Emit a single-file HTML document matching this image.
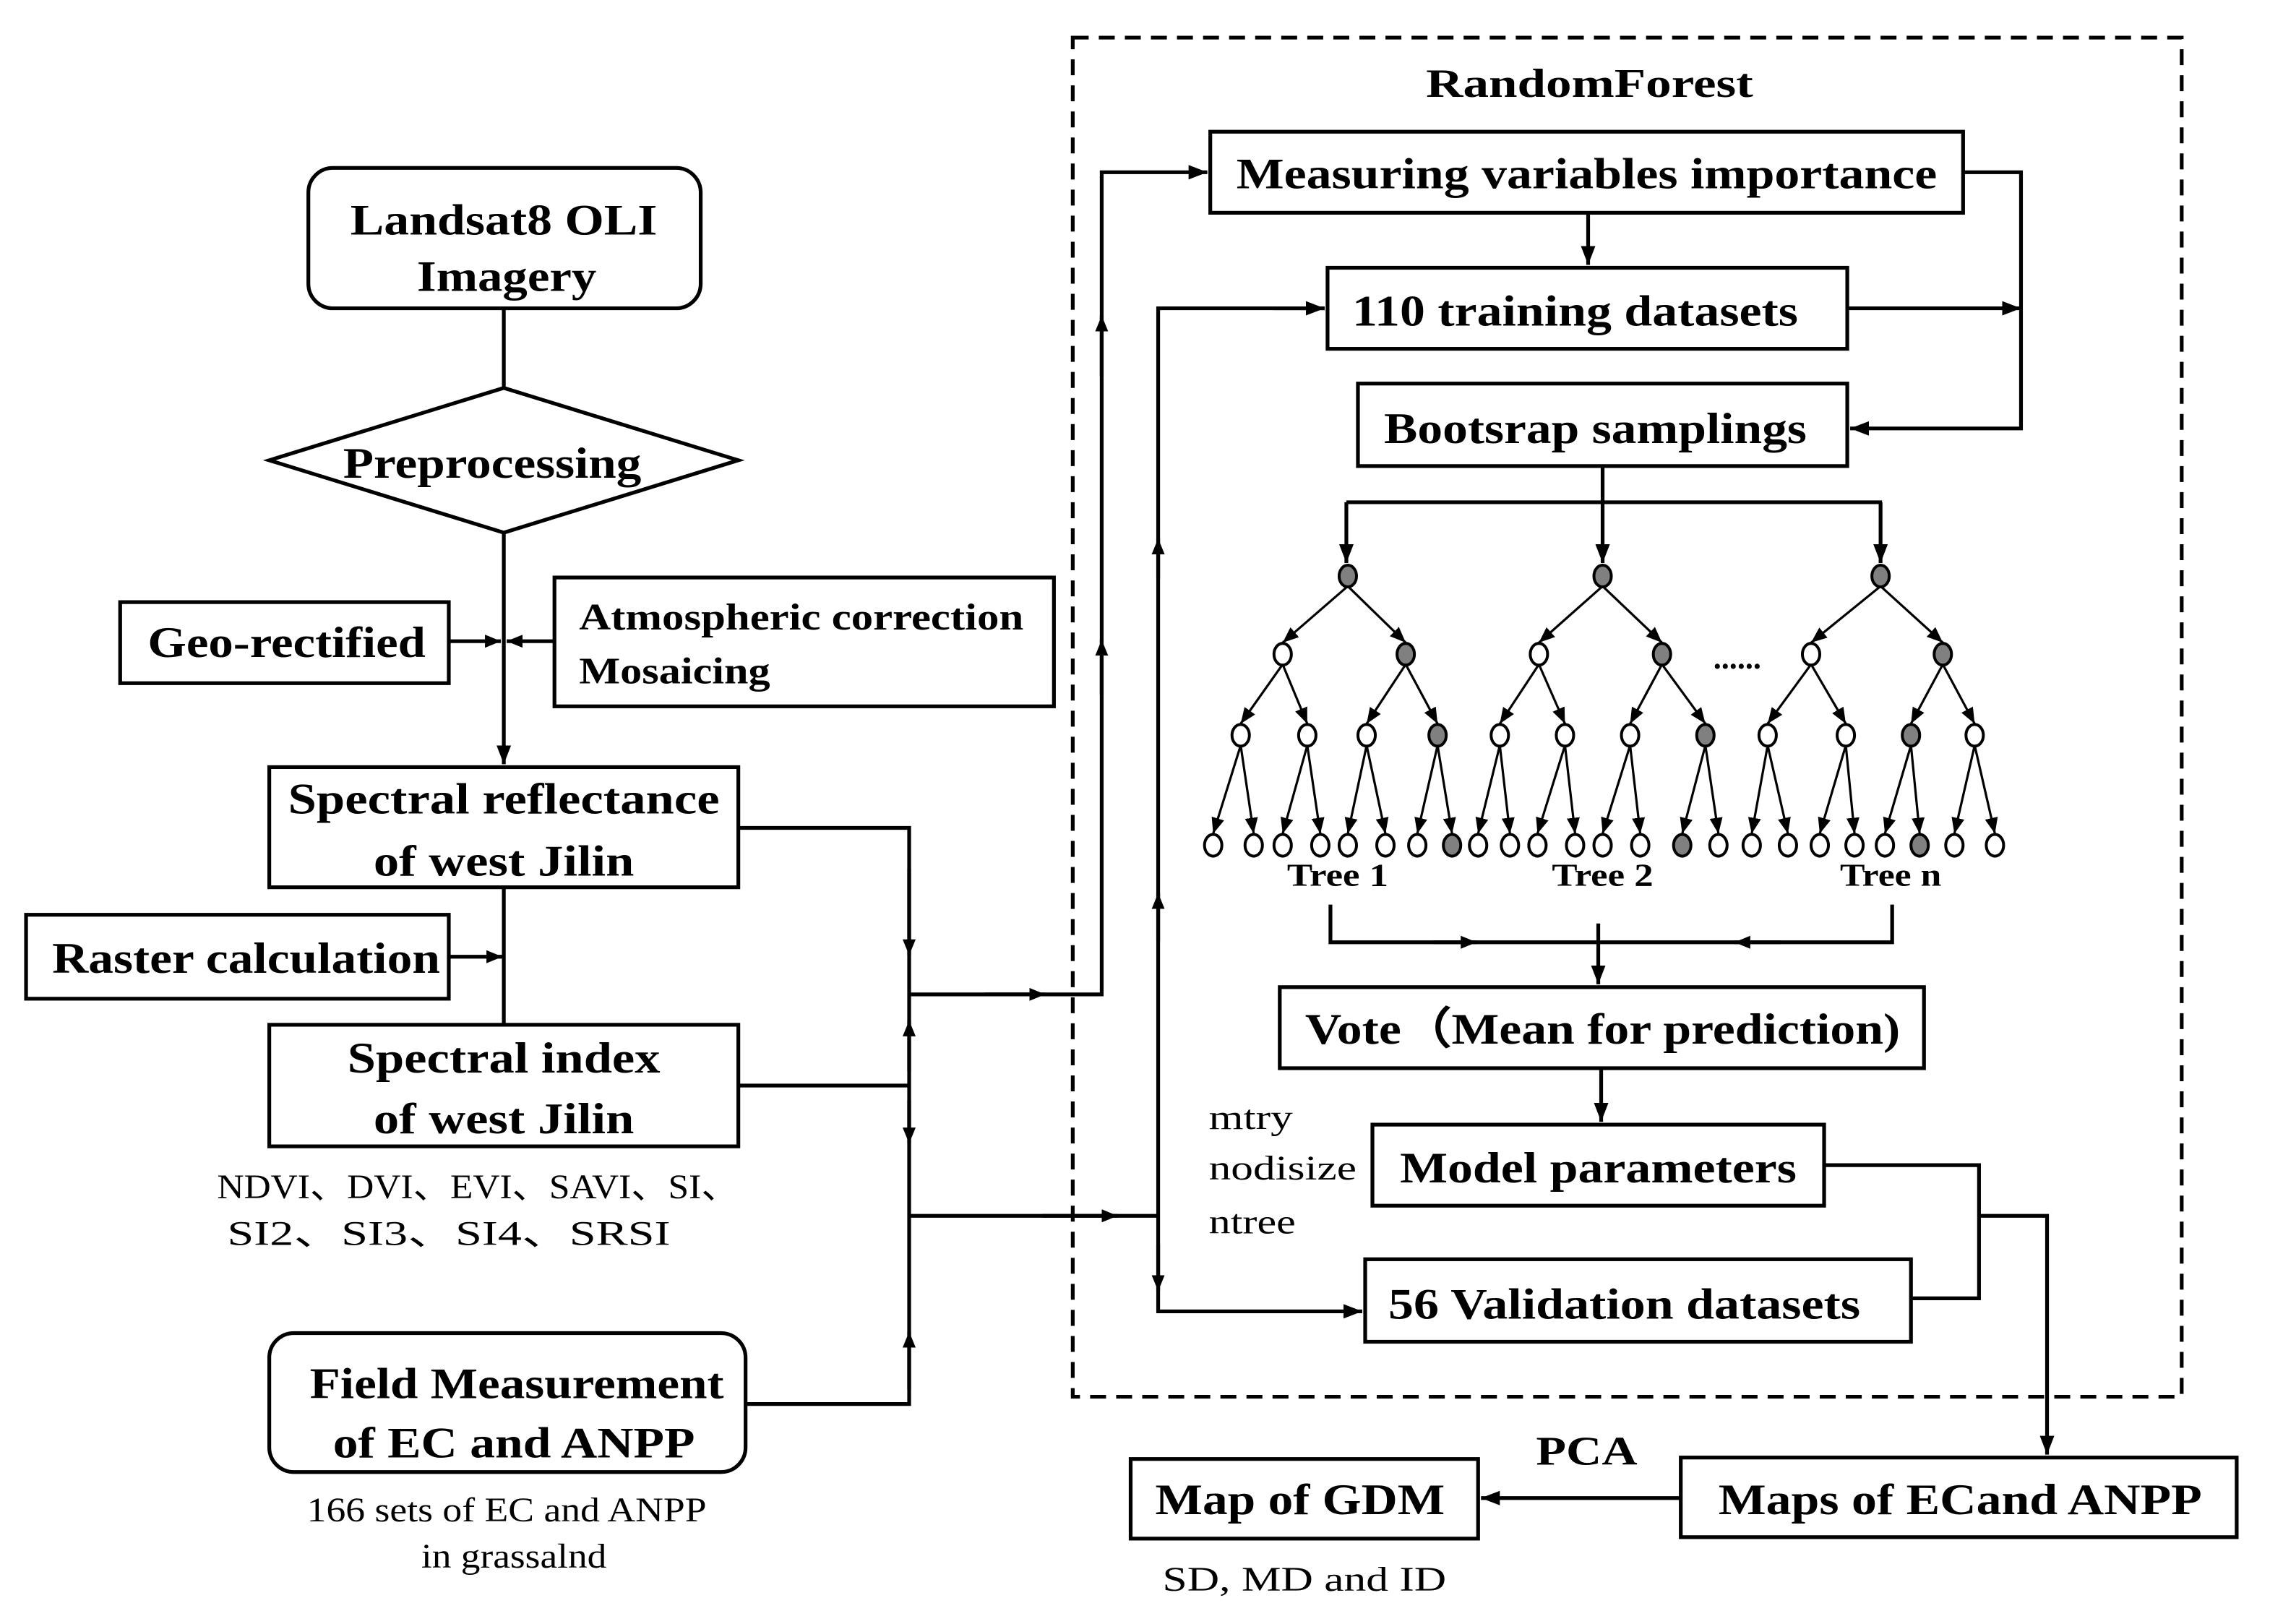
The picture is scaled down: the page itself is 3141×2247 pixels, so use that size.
<!DOCTYPE html>
<html><head><meta charset="utf-8"><style>
html,body{margin:0;padding:0;background:#fff}
svg{display:block}
text{font-family:"Liberation Serif",serif;fill:#000}
.b{font-weight:bold}
</style></head><body>
<svg id="s" xmlns="http://www.w3.org/2000/svg" width="3141" height="2247" viewBox="0 0 1568 1122" preserveAspectRatio="none">
<defs>
<marker id="a" markerUnits="userSpaceOnUse" markerWidth="14" markerHeight="12" refX="13" refY="5" orient="auto"><path d="M0,0 L13,5 L0,10 z" fill="#000"/></marker>
<marker id="t" markerUnits="userSpaceOnUse" markerWidth="12" markerHeight="10" refX="11" refY="4.5" orient="auto"><path d="M0,0 L11,4.5 L0,9 z" fill="#000"/></marker>
</defs>
<g fill="none" stroke="#000" stroke-width="2.6">
<!-- dashed box -->
<rect x="741" y="26" width="766" height="939" stroke-dasharray="11,7"/>
<!-- left column -->
<rect x="213" y="116" width="271" height="97" rx="17"/>
<line x1="348" y1="213" x2="348" y2="268"/>
<polygon points="186,318 348,268 510,318 348,368"/>
<line x1="348" y1="368" x2="348" y2="528" marker-end="url(#a)"/>
<rect x="83" y="416" width="227" height="56"/>
<rect x="383" y="399" width="345" height="89"/>
<line x1="310" y1="443" x2="346" y2="443" marker-end="url(#t)"/>
<line x1="383" y1="443" x2="350" y2="443" marker-end="url(#t)"/>
<rect x="186" y="530" width="324" height="83"/>
<line x1="348" y1="613" x2="348" y2="708"/>
<rect x="18" y="632" width="292" height="58"/>
<line x1="310" y1="661" x2="347" y2="661" marker-end="url(#t)"/>
<rect x="186" y="708" width="324" height="84"/>
<rect x="186" y="921" width="329" height="96" rx="17"/>
<!-- connectors -->
<polyline points="510,572 628,572 628,970 515,970"/>
<line x1="510" y1="750" x2="628" y2="750"/>
<line x1="628" y1="600" x2="628" y2="660" marker-end="url(#t)"/>
<line x1="628" y1="740" x2="628" y2="705" marker-end="url(#t)"/>
<line x1="628" y1="760" x2="628" y2="790" marker-end="url(#t)"/>
<line x1="628" y1="960" x2="628" y2="920" marker-end="url(#t)"/>
<polyline points="628,687 761,687 761,119 834,119" marker-end="url(#a)"/>
<line x1="680" y1="687" x2="722" y2="687" marker-end="url(#t)"/>
<line x1="761" y1="260" x2="761" y2="218" marker-end="url(#t)"/>
<line x1="761" y1="480" x2="761" y2="442" marker-end="url(#t)"/>
<line x1="628" y1="840" x2="800" y2="840"/>
<line x1="720" y1="840" x2="772" y2="840" marker-end="url(#t)"/>
<polyline points="915,213 800,213 800,906 941,906" marker-end="url(#a)"/>
<line x1="800" y1="240" x2="800" y2="214" stroke-width="0"/>
<line x1="880" y1="213" x2="915" y2="213" marker-end="url(#a)"/>
<line x1="800" y1="400" x2="800" y2="372" marker-end="url(#t)"/>
<line x1="800" y1="650" x2="800" y2="617" marker-end="url(#t)"/>
<line x1="800" y1="860" x2="800" y2="892" marker-end="url(#t)"/>
<!-- RF boxes -->
<rect x="836" y="91" width="520" height="56"/>
<rect x="917" y="185" width="359" height="56"/>
<rect x="938" y="265" width="338" height="57"/>
<line x1="1097" y1="147" x2="1097" y2="183" marker-end="url(#a)"/>
<polyline points="1356,119 1396,119 1396,296 1278,296" marker-end="url(#a)"/>
<line x1="1276" y1="213" x2="1396" y2="213" marker-end="url(#a)"/>
<line x1="1107" y1="322" x2="1107" y2="347"/>
<line x1="930" y1="347" x2="1300" y2="347"/>
<line x1="930" y1="347" x2="930" y2="389" marker-end="url(#a)"/>
<line x1="1107" y1="347" x2="1107" y2="389" marker-end="url(#a)"/>
<line x1="1299" y1="347" x2="1299" y2="389" marker-end="url(#a)"/>
<polyline points="919,625 919,651 1307,651 1307,625"/>
<line x1="990" y1="651" x2="1020" y2="651" marker-end="url(#t)"/>
<line x1="1230" y1="651" x2="1198" y2="651" marker-end="url(#t)"/>
<line x1="1104" y1="638" x2="1104" y2="680" marker-end="url(#a)"/>
<rect x="884" y="682" width="445" height="56"/>
<line x1="1106" y1="738" x2="1106" y2="775" marker-end="url(#a)"/>
<rect x="948" y="777" width="312" height="56"/>
<rect x="943" y="870" width="377" height="57"/>
<polyline points="1260,805 1367,805 1367,897 1320,897"/>
<polyline points="1367,840 1414,840 1414,1005" marker-end="url(#a)"/>
<rect x="1161" y="1007" width="384" height="55"/>
<line x1="1161" y1="1035" x2="1023" y2="1035" marker-end="url(#a)"/>
<rect x="781" y="1008" width="240" height="55"/>
</g>
<g id="trees" stroke="#000" stroke-width="1.6"></g>
<g class="b" font-size="30">
<text x="1098" y="67" text-anchor="middle" font-size="28" textLength="226" lengthAdjust="spacingAndGlyphs">RandomForest</text>
<text x="348" y="162" text-anchor="middle" textLength="212" lengthAdjust="spacingAndGlyphs">Landsat8 OLI</text>
<text x="350" y="201" text-anchor="middle" textLength="124" lengthAdjust="spacingAndGlyphs">Imagery</text>
<text x="340" y="330" text-anchor="middle" textLength="206" lengthAdjust="spacingAndGlyphs">Preprocessing</text>
<text x="198" y="454" text-anchor="middle" textLength="192" lengthAdjust="spacingAndGlyphs">Geo-rectified</text>
<text x="400" y="435" font-size="26" textLength="307" lengthAdjust="spacingAndGlyphs">Atmospheric correction</text>
<text x="400" y="472" font-size="26" textLength="132" lengthAdjust="spacingAndGlyphs">Mosaicing</text>
<text x="348" y="562" text-anchor="middle" textLength="298" lengthAdjust="spacingAndGlyphs">Spectral reflectance</text>
<text x="348" y="605" text-anchor="middle" textLength="180" lengthAdjust="spacingAndGlyphs">of west Jilin</text>
<text x="170" y="672" text-anchor="middle" textLength="268" lengthAdjust="spacingAndGlyphs">Raster calculation</text>
<text x="348" y="741" text-anchor="middle" textLength="216" lengthAdjust="spacingAndGlyphs">Spectral index</text>
<text x="348" y="783" text-anchor="middle" textLength="180" lengthAdjust="spacingAndGlyphs">of west Jilin</text>
<text x="357" y="966" text-anchor="middle" textLength="286" lengthAdjust="spacingAndGlyphs">Field Measurement</text>
<text x="355" y="1007" text-anchor="middle" textLength="250" lengthAdjust="spacingAndGlyphs">of EC and ANPP</text>
<text x="1096" y="130" text-anchor="middle" textLength="484" lengthAdjust="spacingAndGlyphs">Measuring variables importance</text>
<text x="1088" y="225" text-anchor="middle" textLength="308" lengthAdjust="spacingAndGlyphs">110 training datasets</text>
<text x="1102" y="306" text-anchor="middle" textLength="292" lengthAdjust="spacingAndGlyphs">Bootsrap samplings</text>
<text x="1107" y="721" text-anchor="middle" textLength="411" lengthAdjust="spacingAndGlyphs">Vote（Mean for prediction)</text>
<text x="1104" y="817" text-anchor="middle" textLength="274" lengthAdjust="spacingAndGlyphs">Model parameters</text>
<text x="1122" y="911" text-anchor="middle" textLength="326" lengthAdjust="spacingAndGlyphs">56 Validation datasets</text>
<text x="1354" y="1046" text-anchor="middle" textLength="334" lengthAdjust="spacingAndGlyphs">Maps of ECand ANPP</text>
<text x="898" y="1046" text-anchor="middle" textLength="200" lengthAdjust="spacingAndGlyphs">Map of GDM</text>
<text x="1096" y="1012" text-anchor="middle" font-size="28" textLength="70" lengthAdjust="spacingAndGlyphs">PCA</text>
<text x="924" y="612" text-anchor="middle" font-size="22" textLength="70" lengthAdjust="spacingAndGlyphs">Tree 1</text>
<text x="1107" y="612" text-anchor="middle" font-size="22" textLength="70" lengthAdjust="spacingAndGlyphs">Tree 2</text>
<text x="1306" y="612" text-anchor="middle" font-size="22" textLength="70" lengthAdjust="spacingAndGlyphs">Tree n</text>
<text x="1200" y="462" text-anchor="middle" font-size="22">......</text>
</g>
<g font-size="24">
<text x="835" y="780" textLength="58" lengthAdjust="spacingAndGlyphs">mtry</text>
<text x="835" y="815" textLength="102" lengthAdjust="spacingAndGlyphs">nodisize</text>
<text x="835" y="852" textLength="60" lengthAdjust="spacingAndGlyphs">ntree</text>
<text x="330" y="828" text-anchor="middle" font-family="Liberation Serif, Noto Serif CJK SC, serif" textLength="360" lengthAdjust="spacingAndGlyphs">NDVI、DVI、EVI、SAVI、SI、</text>
<text x="310" y="860" text-anchor="middle" font-family="Liberation Serif, Noto Serif CJK SC, serif" textLength="306" lengthAdjust="spacingAndGlyphs">SI2、SI3、SI4、SRSI</text>
<text x="350" y="1051" text-anchor="middle" textLength="276" lengthAdjust="spacingAndGlyphs">166 sets of EC and ANPP</text>
<text x="355" y="1083" text-anchor="middle" textLength="128" lengthAdjust="spacingAndGlyphs">in grassalnd</text>
<text x="901" y="1099" text-anchor="middle" textLength="196" lengthAdjust="spacingAndGlyphs">SD, MD and ID</text>
</g>
<script>
(function(){
var g=document.getElementById('trees'),NS='http://www.w3.org/2000/svg';
var T=[
 {r:931,l2:[886,971],l3:[857,903,944,993],lv:[838,866,886,912,931,957,979,1003],g2:1,g3:3,gl:7},
 {r:1107,l2:[1063,1148],l3:[1036,1081,1126,1178],lv:[1021,1043,1062,1088,1107,1133,1162,1187],g2:1,g3:3,gl:6},
 {r:1299,l2:[1251,1342],l3:[1221,1275,1320,1364],lv:[1210,1235,1257,1281,1302,1326,1350,1378],g2:1,g3:2,gl:5}];
var Y=[398,452,508,584];
function ln(x1,y1,x2,y2){var l=document.createElementNS(NS,'line');l.setAttribute('x1',x1);l.setAttribute('y1',y1);l.setAttribute('x2',x2);l.setAttribute('y2',y2);l.setAttribute('marker-end','url(#t)');g.appendChild(l);}
function nd(x,y,f){var e=document.createElementNS(NS,'ellipse');e.setAttribute('cx',x);e.setAttribute('cy',y);e.setAttribute('rx',6);e.setAttribute('ry',7.5);e.setAttribute('fill',f?'#808080':'#fff');e.setAttribute('stroke-width','2');g.appendChild(e);}
T.forEach(function(t){
 t.l2.forEach(function(x){ln(t.r,Y[0]+7,x,Y[1]-8);});
 t.l3.forEach(function(x,i){ln(t.l2[i>>1],Y[1]+7,x,Y[2]-8);});
 t.lv.forEach(function(x,i){ln(t.l3[i>>1],Y[2]+7,x,Y[3]-8);});
});
T.forEach(function(t){
 nd(t.r,Y[0],1);
 t.l2.forEach(function(x,i){nd(x,Y[1],i==t.g2);});
 t.l3.forEach(function(x,i){nd(x,Y[2],i==t.g3);});
 t.lv.forEach(function(x,i){nd(x,Y[3],i==t.gl);});
});
})();
</script>
</svg>
</body></html>
